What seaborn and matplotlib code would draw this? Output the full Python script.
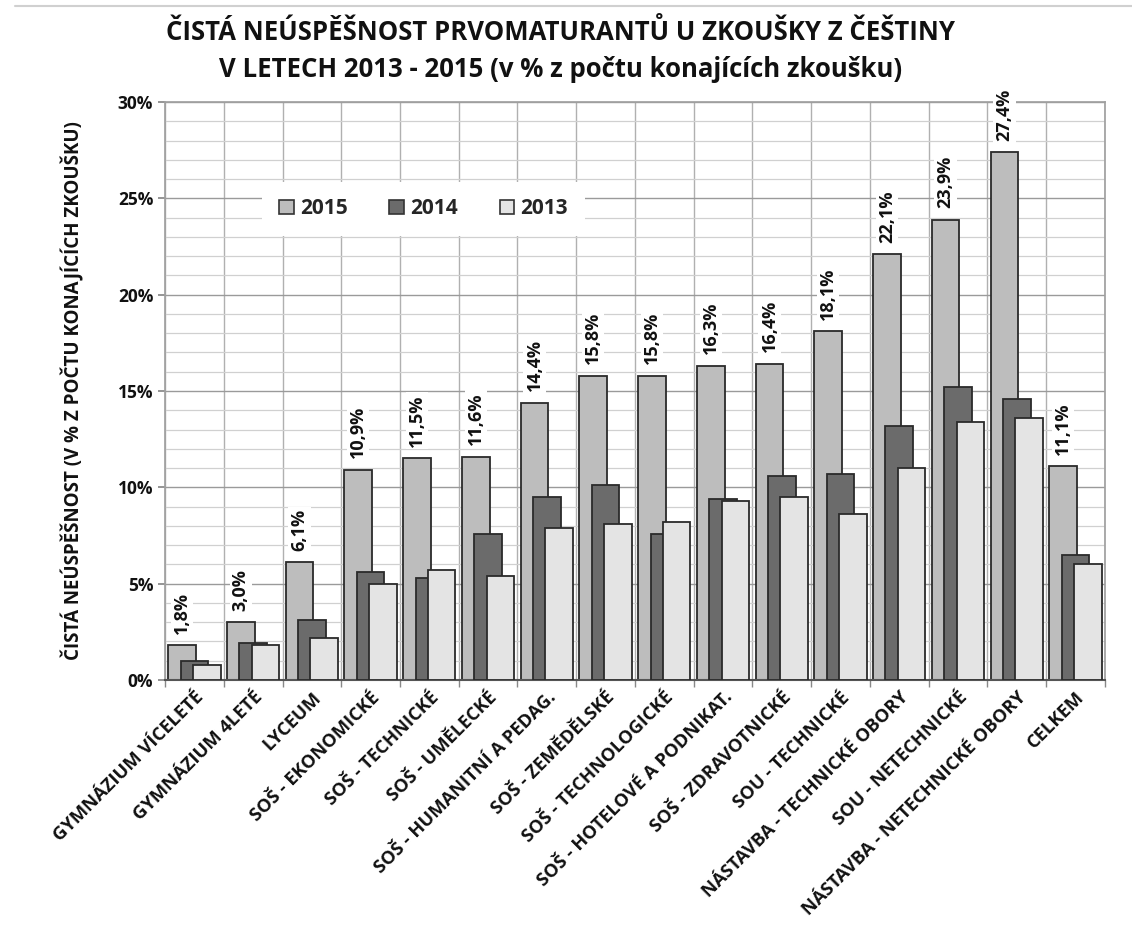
import numpy as np
import pandas as pd
import seaborn as sns
import matplotlib.pyplot as plt
from matplotlib.patches import Patch
from matplotlib.lines import Line2D
from matplotlib.ticker import MultipleLocator, FixedLocator

categories = ["GYMNÁZIUM VÍCELETÉ", "GYMNÁZIUM 4LETÉ", "LYCEUM", "SOŠ - EKONOMICKÉ",
              "SOŠ - TECHNICKÉ", "SOŠ - UMĚLECKÉ", "SOŠ - HUMANITNÍ A PEDAG.",
              "SOŠ - ZEMĚDĚLSKÉ", "SOŠ - TECHNOLOGICKÉ", "SOŠ - HOTELOVÉ A PODNIKAT.",
              "SOŠ - ZDRAVOTNICKÉ", "SOU - TECHNICKÉ", "NÁSTAVBA - TECHNICKÉ OBORY",
              "SOU - NETECHNICKÉ", "NÁSTAVBA - NETECHNICKÉ OBORY", "CELKEM"]
v2015 = [1.8, 3.0, 6.1, 10.9, 11.5, 11.6, 14.4, 15.8, 15.8, 16.3, 16.4, 18.1, 22.1, 23.9, 27.4, 11.1]
v2014 = [1.0, 1.9, 3.1, 5.6, 5.3, 7.6, 9.5, 10.1, 7.6, 9.4, 10.6, 10.7, 13.2, 15.2, 14.6, 6.5]
v2013 = [0.8, 1.8, 2.2, 5.0, 5.7, 5.4, 7.9, 8.1, 8.2, 9.3, 9.5, 8.6, 11.0, 13.4, 13.6, 6.0]
years = ["2015", "2014", "2013"]
y_ticks = [0, 5, 10, 15, 20, 25, 30]

title = "ČISTÁ NEÚSPĚŠNOST PRVOMATURANTŮ U ZKOUŠKY Z ČEŠTINY\nV LETECH 2013 - 2015 (v % z počtu konajících zkoušku)"
ylabel = "ČISTÁ NEÚSPĚŠNOST (V % Z POČTU KONAJÍCÍCH ZKOUŠKU)"

sns.set_theme(style="white")
plt.rcParams['font.family'] = ['Open Sans', 'DejaVu Sans']

fig, ax = plt.subplots(figsize=(11.32, 9.26), dpi=100)
fig.subplots_adjust(left=0.1458, right=0.976, bottom=0.2657, top=0.8898)

pos = np.arange(len(categories))
offsets = {"2015": -0.21, "2014": 0.0, "2013": 0.21}
colors = {"2015": "#bdbdbd", "2014": "#6b6b6b", "2013": "#e4e4e4"}
series = {"2015": v2015, "2014": v2014, "2013": v2013}

for z, yr in enumerate(years):
    df = pd.DataFrame({"x": pos + offsets[yr], "v": series[yr]})
    sns.barplot(data=df, x="x", y="v", native_scale=True, width=0.47,
                color=colors[yr], saturation=1, edgecolor="#2a2a2a", linewidth=1.3,
                errorbar=None, ax=ax, zorder=2 + z)

# data labels for 2015
for i, v in enumerate(v2015):
    ax.text(pos[i] + offsets["2015"], v + 0.6, f"{v:.1f}%".replace('.', ','),
            rotation=90, ha='center', va='bottom', fontsize=13, fontweight='bold',
            color='#111111', zorder=6,
            bbox=dict(facecolor='white', edgecolor='none', pad=1.5))

ax.set_xlim(-0.5, len(categories) - 0.5)
ax.set_ylim(0, 30)
ax.set_axisbelow(True)

ax.xaxis.set_major_locator(FixedLocator(pos))
ax.set_xticklabels(categories, rotation=45, ha='right', rotation_mode='anchor',
                   fontsize=13.2, fontweight='bold', color='#111111')
ax.xaxis.set_minor_locator(FixedLocator(np.arange(len(categories) + 1) - 0.5))
ax.tick_params(axis='x', which='major', length=0, pad=6)
ax.tick_params(axis='x', which='minor', length=5, color='#888888', direction='out', bottom=True)

ax.yaxis.set_major_locator(FixedLocator(y_ticks))
ax.set_yticklabels([f"{t}%" for t in y_ticks], fontsize=12.5, fontweight='bold', color='#111111')
ax.yaxis.set_minor_locator(MultipleLocator(1))
ax.tick_params(axis='y', which='major', length=5, color='#888888', direction='out', left=True)

ax.grid(True, axis='y', which='major', color='#9a9a9a', linewidth=1.0)
ax.grid(True, axis='y', which='minor', color='#d0d0d0', linewidth=0.9)
ax.grid(True, axis='x', which='minor', color='#b0b0b0', linewidth=1.0)
ax.grid(False, axis='x', which='major')

for s in ['top', 'right', 'left']:
    ax.spines[s].set_visible(True)
    ax.spines[s].set_color('#a0a0a0')
ax.spines['bottom'].set_color('#555555')
ax.spines['bottom'].set_linewidth(1.5)

ax.set_xlabel("")
ax.set_ylabel(ylabel, fontsize=13.5, fontweight='bold', color='#111111', labelpad=24)

handles = [Patch(facecolor=colors[y], edgecolor='#333333', linewidth=1.2) for y in years]
leg = ax.legend(handles, years, ncol=3, loc='center', bbox_to_anchor=(0.275, 0.815),
                frameon=True, facecolor='white', edgecolor='none', framealpha=1,
                handlelength=0.7, handleheight=0.7, handletextpad=0.3, columnspacing=2.0,
                prop={'weight': 'bold', 'size': 15}, borderpad=0.8)
leg.set_zorder(7)

fig.text(0.495, 0.945, title, ha='center', va='center', fontsize=18.5, fontweight='bold',
         color='#111111', linespacing=1.45)

fig.add_artist(Line2D([0.013, 1.0], [0.993, 0.993], color='#d0d0d0', linewidth=1.5))

fig.savefig("out.png", dpi=100)
